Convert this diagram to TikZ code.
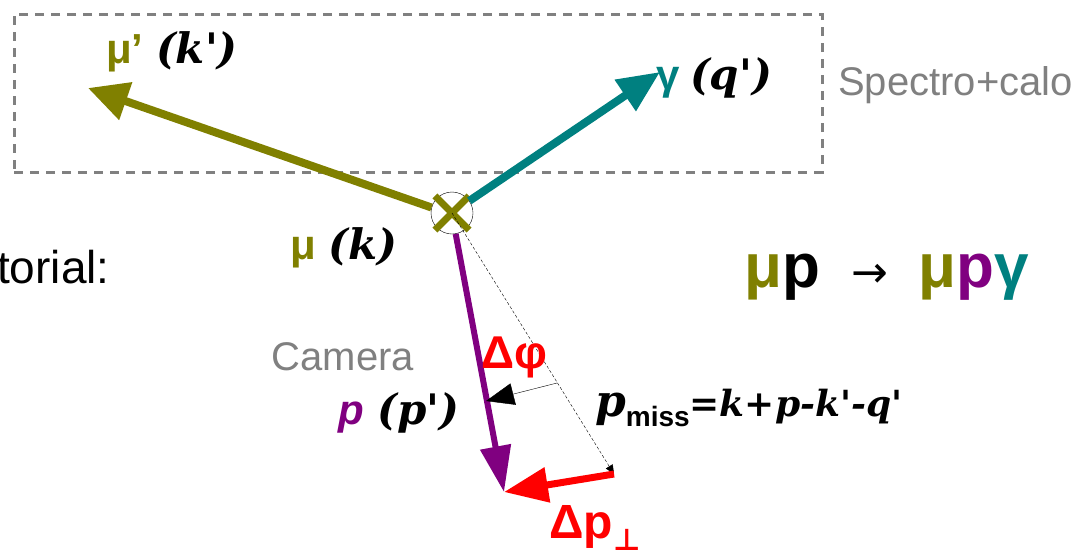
\documentclass[tikz,border=0pt]{standalone}
\usepackage{fontspec}
\setmainfont{Liberation Sans}
\newfontfamily\kfont{DejaVu Serif}
\newfontfamily\symfont{DejaVu Sans}
\usepackage{tikz}
\usetikzlibrary{arrows.meta,positioning}
\definecolor{muOlive}{HTML}{808000}
\definecolor{gamTeal}{HTML}{008080}
\definecolor{pPurple}{HTML}{800080}
\definecolor{detGray}{HTML}{808080}
\newcommand{\fsz}[1]{\fontsize{#1}{#1}\selectfont}
\newcommand{\bi}[1]{{\kfont\bfseries\itshape #1}}

\begin{document}
\begin{tikzpicture}[x=1pt, y=-1pt,
  detbox/.style={draw=detGray, dashed, line width=3pt,
                 dash pattern=on 9pt off 7pt, minimum width=808pt,
                 minimum height=158pt, inner sep=0pt},
  gray lbl/.style={text=detGray, font=\fsz{40}, inner sep=0pt},
  lbl/.style={font=\fsz{42}\bfseries, inner sep=0pt},
  vtx/.style={draw=black, circle, thin, minimum size=42pt, inner sep=0pt},
  muarr/.style={draw=muOlive, line width=8pt,
                -{Triangle[length=40pt,width=38pt]}},
  gamarr/.style={draw=gamTeal, line width=8pt,
                 -{Triangle[length=42pt,width=36pt]}},
  parr/.style={draw=pPurple, line width=6pt,
               -{Triangle[length=46pt,width=30pt]}},
  dparr/.style={draw=red, line width=7pt,
                -{Triangle[length=44pt,width=34pt]}},
  phiarr/.style={draw=black, thin, -{Triangle[length=28pt,width=22pt]}},
  missline/.style={draw=black, thin, dash pattern=on 3pt off 2pt,
                   -{Triangle[length=9pt,width=8pt]}}
]
\useasboundingbox (0,0) rectangle (1077,558);

% detector regions
\node[detbox] (spec) at (418,93) {};
\node[gray lbl, anchor=west] (speclbl) at (838,85) {Spectro+calo};
\node[gray lbl] (cam) at (343,357) {Camera};
\node[font=\fsz{46}, anchor=west, inner sep=0pt] (tut) at (-3,267) {torial:};

% vertex
\node[vtx] (v) at (452,213) {};
\draw[muOlive, line width=7pt, shorten <=-3pt, shorten >=-3pt]
  (v.north west) -- (v.south east);
\draw[muOlive, line width=7pt, shorten <=-3pt, shorten >=-3pt]
  (v.north east) -- (v.south west);

% end points
\coordinate (mutip)  at (88,88);
\coordinate (gamtip) at (660,72);
\coordinate (ptip)   at (504,492);
\coordinate (miss)   at (614,474);
\coordinate (phia)   at (557,383);
\coordinate (phib)   at (486,401);

% particles
\draw[muarr]  (v.165) -- (mutip);
\draw[gamarr] (v.35)  -- (gamtip);
\draw[parr]   (v.-80) -- (ptip);
\draw[missline] (v.center) -- (miss);
\draw[dparr]  (miss) -- (ptip);
\draw[phiarr] (phia) -- (phib);

% labels
\node[lbl] (mupr) at (172,52)
  {\textcolor{muOlive}{μ'}\hspace{0.3em}\bi{(k')}};
\node[lbl, anchor=west] (gam) at (656,78)
  {\textcolor{gamTeal}{γ}\hspace{0.25em}\bi{(q')}};
\node[lbl] (mu) at (344,248)
  {\textcolor{muOlive}{μ}\hspace{0.3em}\bi{(k)}};
\node[lbl] (plbl) at (399,413)
  {\textcolor{pPurple}{\itshape p}\hspace{0.3em}\bi{(p')}};
\node[lbl, text=red, font=\fsz{46}\bfseries] (dphi) at (514,357) {Δφ};
\node[lbl, anchor=west] (pmiss) at (595,408)
  {\bi{\fsz{44}p}\raisebox{-0.45ex}{\fsz{28}\bfseries miss}\bi{\fsz{36}=k+p-k'-q'}};
\node[lbl, text=red, font=\fsz{48}\bfseries] (dpperp) at (595,528)
  {Δp\raisebox{-0.45ex}{\symfont\fsz{30}\bfseries ⊥}};
\node[lbl, font=\fsz{62}\bfseries, anchor=west] (react) at (744,277)
  {\textcolor{muOlive}{μ}p\hspace{0.5em}{\symfont\mdseries\fsz{44}→}\hspace{0.5em}\textcolor{muOlive}{μ}\textcolor{pPurple}{p}\textcolor{gamTeal}{γ}};
\end{tikzpicture}
\end{document}
